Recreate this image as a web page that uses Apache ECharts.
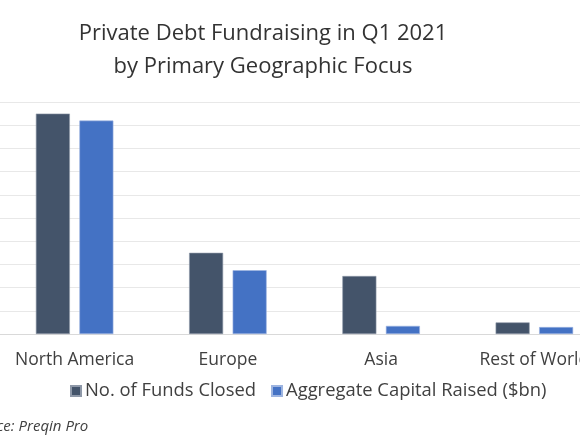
<!DOCTYPE html>
<html>
<head>
<meta charset="utf-8">
<title>Private Debt Fundraising in Q1 2021</title>
<script src="https://cdn.jsdelivr.net/npm/echarts@6/dist/echarts.min.js"></script>
<style>
	html, body { margin: 0; padding: 0; background: #fff; }
	#main { width: 580px; height: 435px; }
</style>
</head>
<body>
<div id="main"></div>
<script>
// values (axis is 0-40, step 4)
var regions = ["North America", "Europe", "Asia", "Rest of World"];
var fundsClosed = [38, 14, 10, 2];
var capitalRaised = [36.8, 11.0, 1.4, 1.2];
var seriesNames = ["No. of Funds Closed", "Aggregate Capital Raised ($bn)"];

var font = "'Open Sans', Lato, sans-serif";
var myChart = echarts.init(document.getElementById('main'));

myChart.setOption({
	animation: false,
	title: {
		text: "Private Debt Fundraising in Q1 2021\nby Primary Geographic Focus",
		left: 258,
		top: 12,
		textAlign: 'center',
		textStyle: {
			fontFamily: font,
			fontSize: 22,
			fontWeight: 'normal',
			lineHeight: 33,
			color: '#333333'
		}
	},
	legend: {
		data: seriesNames,
		left: 70,
		top: 382,
		padding: 0,
		icon: 'rect',
		itemWidth: 10,
		itemHeight: 10,
		itemGap: 15,
		textStyle: { fontFamily: font, fontSize: 18.4, color: '#404040', padding: [0, 0, 0, -1] }
	},
	graphic: [{
		type: 'text',
		x: -34,
		y: 419,
		style: {
			text: "Source: Preqin Pro",
			fontFamily: font,
			fontSize: 15,
			fontStyle: 'italic',
			fill: '#404040'
		}
	}],
	grid: {
		left: -2,
		right: -31,
		top: 102,
		bottom: 101,
		outerBoundsMode: 'none',
		containLabel: false
	},
	xAxis: {
		type: 'category',
		data: regions,
		axisTick: { show: false },
		axisLine: { lineStyle: { color: '#d9d9d9', width: 1 } },
		axisLabel: {
			interval: 0,
			hideOverlap: false,
			fontFamily: font,
			fontSize: 17.5,
			color: '#404040',
			margin: 17
		}
	},
	yAxis: {
		type: 'value',
		min: 0,
		max: 40,
		interval: 4,
		axisLabel: { show: false },
		axisLine: { show: false },
		splitLine: { lineStyle: { color: '#e8e8e8', width: 1 } }
	},
	series: [{
		name: seriesNames[0],
		type: 'bar',
		data: fundsClosed,
		barWidth: 34,
		barGap: '28%',
		itemStyle: { color: '#44546a', borderColor: '#8e98a8', borderWidth: 0.6 }
	}, {
		name: seriesNames[1],
		type: 'bar',
		data: capitalRaised,
		barWidth: 34,
		itemStyle: { color: '#4472c4', borderColor: '#9db4e0', borderWidth: 0.6 }
	}]
});
</script>
</body>
</html>
